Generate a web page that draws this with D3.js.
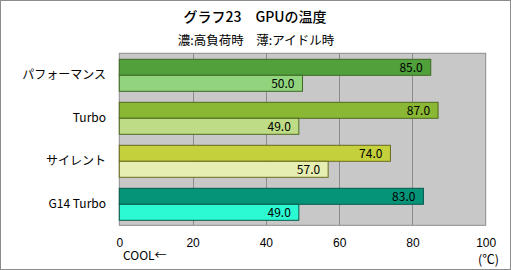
<!DOCTYPE html>
<html lang="ja">
<head>
<meta charset="UTF-8"/>
<title>グラフ23 GPUの温度</title>
<script src="https://d3js.org/d3.v7.min.js"></script>
<style>
	body { margin: 0; background: #fff; }
	svg { display: block; font-family: "Noto Sans CJK JP", "DejaVu Sans", sans-serif; }
	.frame { fill: #fff; stroke: #8c8c8c; stroke-width: 1; }
	.plot { fill: #c8c8c8; stroke: #8c8c8c; stroke-width: 1; }
	.grid { stroke: #8c8c8c; stroke-width: 1; }
	.tick text { font-size: 12px; fill: #000; }
	.cat { font-size: 12px; fill: #000; }
	.val { font-size: 12px; fill: #000; }
</style>
</head>
<body>
<div id="chart"></div>
<script>
var w = 511;
var h = 270;

var categories = ["パフォーマンス", "Turbo", "サイレント", "G14 Turbo"];
var loadTemp = [85.0, 87.0, 74.0, 83.0];   // 濃: 高負荷時
var idleTemp = [50.0, 49.0, 57.0, 49.0];   // 薄: アイドル時
var xTicks = [0, 20, 40, 60, 80, 100];

var darkColors  = ["#50a03c", "#8ab834", "#c4d03c", "#069479"];
var lightColors = ["#92d47e", "#bedc86", "#e6eeb2", "#2cfad2"];
var borderColors = ["#3e6a22", "#4e6a1e", "#6a6a1e", "#05594a"];

var plotLeft = 119.3, plotRight = 485.7, plotTop = 53.3, plotBottom = 225.3;

var svg = d3.select("#chart")
	.append("svg")
	.attr("width", w)
	.attr("height", h);

svg.append("rect")
	.attr("class", "frame")
	.attr("x", 0.5).attr("y", 0.5)
	.attr("width", w - 1).attr("height", h - 1);

svg.append("text")
	.attr("x", 255).attr("y", 22)
	.attr("text-anchor", "middle")
	.style("font-size", "14px")
	.style("font-weight", "500")
	.text("グラフ23　GPUの温度");

svg.append("text")
	.attr("x", 256).attr("y", 45)
	.attr("text-anchor", "middle")
	.style("font-size", "12.5px")
	.text("濃:高負荷時　薄:アイドル時");

var xScale = d3.scaleLinear().domain([0, 100]).range([plotLeft, plotRight]);
var yScale = d3.scaleBand().domain(categories).range([plotTop, plotBottom]);

svg.append("rect")
	.attr("class", "plot")
	.attr("x", plotLeft).attr("y", plotTop)
	.attr("width", plotRight - plotLeft).attr("height", plotBottom - plotTop);

svg.selectAll(".grid")
	.data(xTicks.slice(1, -1))
	.enter().append("line")
	.attr("class", "grid")
	.attr("x1", function(d){ return Math.round(xScale(d)) + 0.5; })
	.attr("x2", function(d){ return Math.round(xScale(d)) + 0.5; })
	.attr("y1", plotTop).attr("y2", plotBottom);

var barH = 16;
var offset = 6;

var groups = svg.selectAll(".grp")
	.data(categories)
	.enter().append("g")
	.attr("class", "grp")
	.attr("transform", function(d){ return "translate(0," + yScale(d) + ")"; });

groups.each(function(c, i){
	var g = d3.select(this);
	var rows = [
		{v: loadTemp[i], fill: darkColors[i], y: offset},
		{v: idleTemp[i], fill: lightColors[i], y: offset + barH}
	];
	rows.forEach(function(r){
		g.append("rect")
			.attr("x", xScale(0))
			.attr("y", r.y)
			.attr("width", xScale(r.v) - xScale(0))
			.attr("height", barH)
			.attr("fill", r.fill)
			.attr("stroke", borderColors[i])
			.attr("stroke-width", 1);
		g.append("text")
			.attr("class", "val")
			.attr("x", xScale(r.v) - 8)
			.attr("y", r.y + barH / 2 + 4.5)
			.attr("text-anchor", "end")
			.text(r.v.toFixed(1));
	});
	g.append("text")
		.attr("class", "cat")
		.attr("x", 106)
		.attr("y", yScale.bandwidth() / 2 + 4.5)
		.attr("text-anchor", "end")
		.text(c);
});

var xAxis = d3.axisBottom(xScale)
	.tickValues(xTicks)
	.tickSize(0)
	.tickPadding(0)
	.tickFormat(d3.format("d"));

svg.append("g")
	.attr("transform", "translate(0," + (plotBottom + 12) + ")")
	.call(xAxis)
	.call(function(g){ g.select(".domain").remove(); })
	.selectAll("text")
	.attr("dy", "0.8em");

svg.append("text")
	.attr("x", 123).attr("y", 260)
	.style("font-size", "12px")
	.text("COOL←");

svg.append("text")
	.attr("x", 499).attr("y", 264)
	.attr("text-anchor", "end")
	.style("font-size", "12.5px")
	.text("(℃)");
</script>
</body>
</html>
